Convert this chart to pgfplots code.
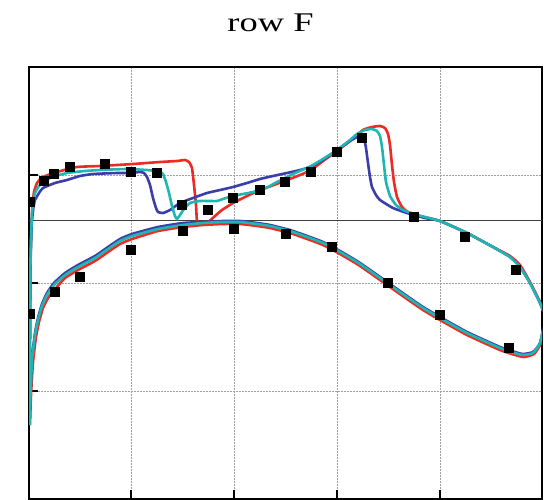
\documentclass[border=0pt]{standalone}
\usepackage{fontspec}
\setmainfont{Liberation Serif}
\usepackage{pgfplots}
\usepackage{graphicx}
\pgfplotsset{compat=1.18}
\definecolor{cRed}{HTML}{EE2A24}
\definecolor{cCyan}{HTML}{1FB5B0}
\definecolor{cBlue}{HTML}{3A3DAA}
\begin{document}
\begin{tikzpicture}
\useasboundingbox (0,0) rectangle (544pt,499pt);
\begin{axis}[
  at={(29pt,0pt)}, anchor=south west,
  scale only axis, width=513pt, height=432pt,
  xmin=29, xmax=542, ymin=67, ymax=499, y dir=reverse,
  xtick={131,234,337,440}, ytick={175,283,391},
  xticklabels={}, yticklabels={},
  tick pos=left, tick align=inside, major tick length=9pt,
  tick style={black, line width=1.2pt},
  grid=major, major grid style={gray!75, line width=0.8pt, dash pattern=on 1.5pt off 1.5pt},
  axis line style={black, line width=1.5pt},
  clip marker paths=true,
  title={\scalebox{1.35}[1]{\fontsize{27}{32}\selectfont row F}},
  title style={at={(0.5,1)}, anchor=base, yshift=30pt, xshift=-15pt},
]
\addplot[black!75, line width=1.4pt] coordinates {(29,220.7) (542,220.7)};
% red
\addplot[cRed, line width=2.6pt, smooth, tension=0.3] coordinates {
(29.5,425) (30,330) (30.5,260) (31.5,225) (32.5,205) (34,192) (37,183) (43,177) (57,172) (77,167) (100,166) (133,164) (160,162) (177,161) (185,160) (189,162) (192,168) (194,185) (196,205) (197,221) (200,222) (208,222) (215,216) (222,210) (233,203) (247,196) (260,190) (274,185) (287,180) (300,175) (311,170) (323,161) (337,151) (350,141) (363,130) (372,127) (380,126) (385,128) (388,134) (390,145) (392,165) (394,182) (397,197) (402,207) (408,212) (420,216) (440,221) (467,233) (493,247) (510,256) (520,265) (530,282) (540,302) (545,318)
(541,343) (534,354) (524,357) (515,355) (500,350) (467,335) (440,320) (423,310) (407,299) (390,287) (373,275) (357,264) (340,254) (323,245) (310,240) (290,233) (270,228) (257,226) (240,224) (223,224) (203,225) (183,227) (158,231) (132,239) (120,244) (108,252) (95,261) (78,270) (65,278) (56,288) (48,298) (43,308) (39,322) (36,337) (33,362) (31,395) (30,425)};
% blue
\addplot[cBlue, line width=2.6pt, smooth, tension=0.3] coordinates {
(29.5,425) (30,330) (30.5,265) (31.5,230) (32,220) (33.5,207) (35,200) (39,193) (43,188) (55,183) (67,180) (80,176) (93,174) (117,173) (130,173) (140,172) (144,173) (147,177) (150,185) (153,198) (156,208) (158,212) (163,213) (170,210) (180,203) (193,198) (207,193) (220,190) (233,187) (247,183) (260,179) (273,176) (287,173) (300,170) (310,167) (323,160) (337,150) (350,141) (357,137) (362,135) (364,138) (366,148) (368,163) (370,177) (372,187) (376,195) (380,200) (393,208) (410,214) (425,218) (440,221) (467,233) (493,247) (510,257) (520,267) (530,283) (540,303) (545,318)
(540,343) (533,352) (523,354) (515,352) (500,347) (467,332) (440,317) (423,307) (407,296) (390,284) (373,272) (357,261) (340,251) (323,242) (310,237) (290,230) (270,225) (257,223) (240,221) (223,221) (203,222) (183,223) (158,227) (132,234) (120,239) (108,247) (95,256) (78,265) (65,273) (54,283) (47,293) (42,304) (38,318) (35,333) (32,358) (30.5,393) (29.5,425)};
% cyan
\addplot[cCyan, line width=2.6pt, smooth, tension=0.3] coordinates {
(29.5,425) (30,330) (30.5,260) (31.5,225) (32,213) (33.5,200) (35,193) (39,186) (43,182) (52,177) (67,173) (85,171) (100,170) (127,169) (147,170) (155,171) (160,172) (163,174) (166,182) (169,193) (172,206) (175,216) (177,219) (180,215) (184,209) (190,203) (200,201) (210,201) (217,201) (223,199) (233,196) (253,192) (266,188) (277,182) (293,174) (311,166) (323,159) (337,150) (350,140) (357,134) (365,130) (372,129) (377,131) (380,136) (382,147) (384,165) (386,182) (390,196) (396,205) (403,210) (417,215) (440,221) (467,233) (493,247) (510,257) (520,267) (530,283) (540,303) (545,318)
(540,343) (533,353) (523,355) (515,353) (500,348) (467,333) (440,318) (423,308) (407,297) (390,285) (373,273) (357,262) (340,252) (323,243) (310,238) (290,231) (270,226) (257,224) (240,222) (223,222) (203,223) (183,225) (158,229) (132,236) (120,241) (108,249) (95,258) (78,267) (65,275) (54,285) (47,295) (42,306) (38,320) (35,335) (32,360) (30.5,395) (29.5,425)};
% markers
\addplot[only marks, mark=square*, mark size=4.5pt, black] coordinates {
(30,202) (44,181) (54,174) (70,167) (105,164) (131,172) (157,173) (182,205) (208,210) (233,198) (260,190) (285,182) (311,172) (337,152) (362,138) (414,217) (465,237) (516,270)
(30,314) (55,292) (80,277) (131,250) (183,231) (234,229) (286,234) (332,247) (388,283) (440,315) (509,348)};
\end{axis}
\end{tikzpicture}
\end{document}
